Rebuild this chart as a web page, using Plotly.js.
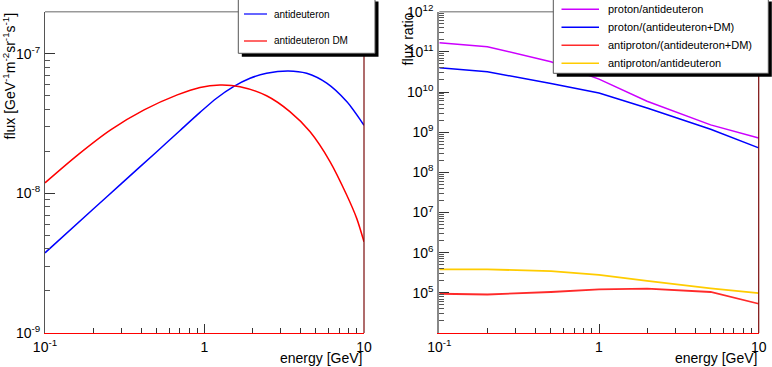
<!DOCTYPE html>
<html lang="en">
<head>
    <meta charset="UTF-8">
    <title>Antideuteron flux and flux ratios</title>
    <script src="https://cdn.plot.ly/plotly-3.0.1.min.js"></script>
    <style>
        body { margin: 0; padding: 0; background: #fff; }
        #chart { width: 772px; height: 367px; }
    </style>
</head>
<body>
    <div id="chart"></div>
    <script>
        // ---- data ----
        // left panel: flux vs energy
        const dbarE = [0.1, 0.2, 0.3, 0.5, 0.7, 0.937, 1.19, 1.52, 1.93, 2.45, 3.35, 4.37, 5.84, 7.79, 10];
        const dbarFlux = [3.75e-9, 7.69e-9, 1.17e-8, 1.98e-8, 2.81e-8, 3.80e-8, 4.80e-8, 5.81e-8, 6.67e-8, 7.24e-8, 7.53e-8, 7.24e-8, 6.15e-8, 4.54e-8, 3.07e-8];
        const dmE = [0.1, 0.16, 0.258, 0.418, 0.675, 0.937, 1.25, 1.67, 2.45, 3.43, 4.58, 6.12, 7.79, 9.0, 10];
        const dmFlux = [1.19e-8, 1.88e-8, 2.85e-8, 3.96e-8, 5.07e-8, 5.74e-8, 5.97e-8, 5.81e-8, 5.0e-8, 3.85e-8, 2.77e-8, 1.69e-8, 9.73e-9, 6.62e-9, 4.50e-9];

        // right panel: flux ratios
        const ratioE = [0.1, 0.2, 0.5, 1, 2, 5, 10];
        const pOverDbar = [1.69e11, 1.34e11, 5.7e10, 2.1e10, 5.9e9, 1.52e9, 7.2e8];
        const pOverDbarDM = [4.02e10, 3.19e10, 1.64e10, 9.5e9, 4.0e9, 1.18e9, 4.06e8];
        const pbarOverDbarDM = [9.5e4, 9.1e4, 1.05e5, 1.22e5, 1.27e5, 1.05e5, 5.35e4];
        const pbarOverDbar = [3.84e5, 3.84e5, 3.48e5, 2.79e5, 1.98e5, 1.29e5, 9.8e4];

        const leftNames = ['antideuteron', 'antideuteron DM'];
        const rightNames = ['proton/antideuteron', 'proton/(antideuteron+DM)', 'antiproton/(antideuteron+DM)', 'antiproton/antideuteron'];

        // tick labels
        const xTickVals = [0.1, 1, 10];
        const xTickText = ['10<sup>-1</sup>', '1', '10'];
        const leftYTickVals = [1e-9, 1e-8, 1e-7];
        const leftYTickText = ['10<sup>-9</sup>', '10<sup>-8</sup>', '10<sup>-7</sup>'];
        const rightYTickVals = [1e5, 1e6, 1e7, 1e8, 1e9, 1e10, 1e11, 1e12];
        const rightYTickText = ['10<sup>5</sup>', '10<sup>6</sup>', '10<sup>7</sup>', '10<sup>8</sup>',
                                '10<sup>9</sup>', '10<sup>10</sup>', '10<sup>11</sup>', '10<sup>12</sup>'];

        // ---- styling ----
        const W = 772, H = 367;
        const X = px => px / W;
        const Y = py => 1 - py / H;
        const FONT = 'Liberation Sans, Arial, Helvetica, sans-serif';
        const leftColors = ['#0000ff', '#ff0000'];
        const rightColors = ['#cc00ff', '#0000ff', '#ff2a2a', '#ffcc00'];

        // minor ticks 2..9 in each decade
        function minorTicks(fromExp, toExp) {
            const vals = [];
            for (let e = fromExp; e < toExp; e++) {
                for (let m = 2; m <= 9; m++) vals.push(m * Math.pow(10, e));
            }
            return vals;
        }

        const traces = [
            { x: dbarE, y: dbarFlux, xaxis: 'x', yaxis: 'y', name: leftNames[0],
              mode: 'lines', line: { color: leftColors[0], width: 1.5, shape: 'spline', smoothing: 0.8 } },
            { x: dmE, y: dmFlux, xaxis: 'x', yaxis: 'y', name: leftNames[1],
              mode: 'lines', line: { color: leftColors[1], width: 1.5, shape: 'spline', smoothing: 0.8 } },
            { x: ratioE, y: pOverDbar, xaxis: 'x2', yaxis: 'y2', name: rightNames[0],
              mode: 'lines', line: { color: rightColors[0], width: 1.5 } },
            { x: ratioE, y: pOverDbarDM, xaxis: 'x2', yaxis: 'y2', name: rightNames[1],
              mode: 'lines', line: { color: rightColors[1], width: 1.5 } },
            { x: ratioE, y: pbarOverDbarDM, xaxis: 'x2', yaxis: 'y2', name: rightNames[2],
              mode: 'lines', line: { color: rightColors[2], width: 1.8 } },
            { x: ratioE, y: pbarOverDbar, xaxis: 'x2', yaxis: 'y2', name: rightNames[3],
              mode: 'lines', line: { color: rightColors[3], width: 1.8 } }
        ];

        const plotTop = Y(11.7), plotBottom = Y(333);

        function xAxis(domain, anchor) {
            return {
                type: 'log', domain: domain, anchor: anchor, range: [-1, 1],
                tickmode: 'array', tickvals: xTickVals, ticktext: xTickText,
                ticks: 'inside', ticklen: 9, tickcolor: '#333', tickwidth: 1,
                minor: { tickmode: 'array', tickvals: minorTicks(-1, 1), ticks: 'inside',
                         ticklen: 5, tickcolor: '#333', tickwidth: 1, showgrid: false },
                showline: true, linecolor: '#ff0000', linewidth: 1,
                showgrid: false, zeroline: false,
                tickfont: { family: FONT, size: 14, color: '#000' },
                ticklabelstandoff: 1
            };
        }

        function yAxis(anchor, range, vals, text, minor, lineColor, lineWidth) {
            return {
                type: 'log', domain: [plotBottom, plotTop], anchor: anchor, range: range,
                tickmode: 'array', tickvals: vals, ticktext: text,
                ticks: 'inside', ticklen: 10, tickcolor: '#333', tickwidth: 1,
                minor: { tickmode: 'array', tickvals: minor, ticks: 'inside',
                         ticklen: 5, tickcolor: '#555', tickwidth: 1, showgrid: false },
                showline: true, linecolor: lineColor, linewidth: lineWidth,
                showgrid: false, zeroline: false,
                tickfont: { family: FONT, size: 14, color: '#000' },
                ticklabelstandoff: 1
            };
        }

        const shapes = [];
        const annotations = [];

        // frame: grey top, dark red right edge
        ['x', 'x2'].forEach((ax, i) => {
            const ya = i === 0 ? 'y' : 'y2';
            shapes.push({ type: 'line', xref: ax + ' domain', yref: ya + ' domain',
                          x0: 0, x1: 1, y0: 1, y1: 1, line: { color: '#999', width: 1.5 } });
            shapes.push({ type: 'line', xref: ax + ' domain', yref: ya + ' domain',
                          x0: 1, x1: 1, y0: 0, y1: 1, line: { color: '#7a0a0a', width: 1.2 } });
        });

        // legend boxes with ROOT style shadow
        function legendBox(x0, y0, x1, y1, labels, colors, rows, lineX0, lineX1, textX, fontSize, lw) {
            shapes.push({ type: 'rect', xref: 'paper', yref: 'paper',
                          x0: X(x0 + 3.5), x1: X(x1 + 3.5), y0: Y(y1 + 3.5), y1: Y(y0 + 3.5),
                          fillcolor: '#000', line: { width: 0 } });
            shapes.push({ type: 'rect', xref: 'paper', yref: 'paper',
                          x0: X(x0), x1: X(x1), y0: Y(y1), y1: Y(y0),
                          fillcolor: '#fff', line: { color: '#555', width: 1 } });
            labels.forEach((lab, i) => {
                shapes.push({ type: 'line', xref: 'paper', yref: 'paper',
                              x0: X(lineX0), x1: X(lineX1), y0: Y(rows[i]), y1: Y(rows[i]),
                              line: { color: colors[i], width: lw } });
                annotations.push({ xref: 'paper', yref: 'paper', x: X(textX), y: Y(rows[i]),
                                   xanchor: 'left', yanchor: 'middle', showarrow: false, text: lab,
                                   font: { family: FONT, size: fontSize, color: '#000' } });
            });
        }
        legendBox(238.3, -2, 375, 53.3, leftNames, leftColors, [14, 41], 244, 267, 272, 10, 1.2);
        legendBox(553.3, -2, 768.3, 73.3, rightNames, rightColors, [9.3, 27.3, 45.3, 63.3], 561.5, 599, 606, 11, 1.5);

        // axis titles (ROOT style: aligned to the axis end)
        annotations.push({ xref: 'paper', yref: 'paper', x: X(364), y: Y(366.8), xanchor: 'right', yanchor: 'bottom',
                           borderpad: 0, showarrow: false, text: 'energy [GeV]', font: { family: FONT, size: 14, color: '#000' } });
        annotations.push({ xref: 'paper', yref: 'paper', x: X(758.7), y: Y(366.8), xanchor: 'right', yanchor: 'bottom',
                           borderpad: 0, showarrow: false, text: 'energy [GeV]', font: { family: FONT, size: 14, color: '#000' } });
        annotations.push({ xref: 'paper', yref: 'paper', x: X(9), y: Y(11), xanchor: 'center', yanchor: 'top',
                           textangle: -90, showarrow: false,
                           text: 'flux [GeV<sup>-1</sup>m<sup>-2</sup>sr<sup>-1</sup>s<sup>-1</sup>]',
                           font: { family: FONT, size: 14, color: '#000' } });
        annotations.push({ xref: 'paper', yref: 'paper', x: X(407), y: Y(11), xanchor: 'center', yanchor: 'top',
                           textangle: -90, showarrow: false, text: 'flux ratio',
                           font: { family: FONT, size: 14, color: '#000' } });

        const layout = {
            width: W, height: H,
            margin: { l: 0, r: 0, t: 0, b: 0 },
            paper_bgcolor: '#fff', plot_bgcolor: '#fff',
            showlegend: false,
            xaxis: xAxis([X(45), X(364)], 'y'),
            yaxis: yAxis('x', [-9, Math.log10(2e-7)], leftYTickVals, leftYTickText, minorTicks(-9, -7).concat([2e-7]), '#555', 1),
            xaxis2: xAxis([X(439.3), X(758.7)], 'y2'),
            yaxis2: yAxis('x2', [4, 12], rightYTickVals, rightYTickText, minorTicks(4, 12), '#888', 2),
            shapes: shapes,
            annotations: annotations
        };

        Plotly.newPlot('chart', traces, layout, { staticPlot: true, displayModeBar: false });
    </script>
</body>
</html>
